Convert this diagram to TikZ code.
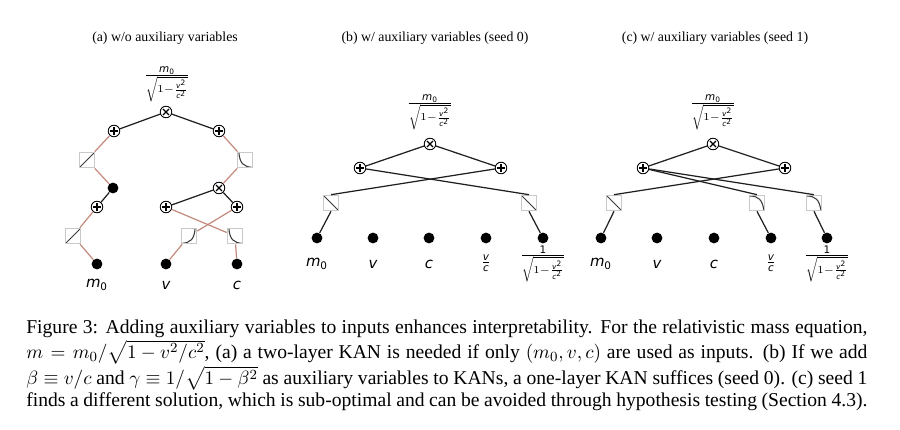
\documentclass[tikz,border=0pt]{standalone}
\usepackage{amsmath,amssymb}
\usepackage{fontspec}
\setmainfont{Liberation Serif}
\newfontfamily\mplfont{DejaVu Sans}
\usetikzlibrary{positioning, calc}
\definecolor{kanred}{HTML}{C48A7E}
\definecolor{boxgray}{HTML}{C9C9C9}
\definecolor{curvegray}{HTML}{3A3A3A}

\newcommand{\mpv}[1]{\text{\mplfont\itshape #1}}
\newcommand{\mpn}[1]{\text{\mplfont #1}}
\newcommand{\massfrac}{$\frac{\mpv{m}_{\mpn{0}}}{\sqrt{1-\frac{\mpv{v}^{\mpn{2}}}{\mpv{c}^{\mpn{2}}}}}$}
\newcommand{\gammafrac}{$\frac{\mpn{1}}{\sqrt{1-\frac{\mpv{v}^{\mpn{2}}}{\mpv{c}^{\mpn{2}}}}}$}

\begin{document}
\begin{tikzpicture}[
  x=0.5714pt, y=-0.5714pt,
  edge/.style={line width=0.7pt, black!88},
  redge/.style={line width=0.7pt, kanred},
  dot/.style={circle, fill=black, minimum size=6.2pt, inner sep=0pt},
  sumnode/.style={
    circle, draw, fill=white, line width=0.5pt, minimum size=6.6pt, inner sep=0pt,
    path picture={\draw[line width=0.75pt, shift={(path picture bounding box.center)}]
      (-2.4pt,0) -- (2.4pt,0) (0,-2.4pt) -- (0,2.4pt);}
  },
  mulnode/.style={
    circle, draw, fill=white, line width=0.5pt, minimum size=6.6pt, inner sep=0pt,
    path picture={\draw[line width=0.75pt, shift={(path picture bounding box.center)}]
      (-1.7pt,-1.7pt) -- (1.7pt,1.7pt) (-1.7pt,1.7pt) -- (1.7pt,-1.7pt);}
  },
  kanbox/.style={draw=boxgray, fill=white, line width=0.5pt, minimum size=9pt, inner sep=0pt},
  linup/.style={kanbox, path picture={\draw[curvegray, line width=0.6pt,
      shift={(path picture bounding box.center)}] (-4.5pt,-4.5pt) -- (4.5pt,4.5pt);}},
  lindown/.style={kanbox, path picture={\draw[curvegray, line width=0.6pt,
      shift={(path picture bounding box.center)}] (-4.5pt,4.5pt) -- (4.5pt,-4.5pt);}},
  curvedecay/.style={kanbox, path picture={\draw[curvegray, line width=0.6pt,
      shift={(path picture bounding box.center)}]
      (-3.5pt,4.5pt) .. controls (-3pt,-2pt) and (-1pt,-3.8pt) .. (4.5pt,-4.3pt);}},
  curvegrow/.style={kanbox, path picture={\draw[curvegray, line width=0.6pt,
      shift={(path picture bounding box.center)}]
      (-4.5pt,-4.3pt) .. controls (1pt,-3.8pt) and (3pt,-2pt) .. (3.5pt,4.5pt);}},
  curvedrop/.style={kanbox, path picture={\draw[curvegray, line width=0.6pt,
      shift={(path picture bounding box.center)}]
      (-4.5pt,4pt) .. controls (1pt,4pt) and (3pt,2pt) .. (4pt,-4.5pt);}},
  lab/.style={font=\fontsize{8.5}{10}\selectfont, inner sep=0pt},
  ttl/.style={font=\fontsize{7.9}{9.5}\selectfont},
]

% Background
\fill[white] (0,0) rectangle (900,430);
\useasboundingbox (0,0) rectangle (900,430);

% Titles
\node[ttl] (ttl-a) at (165,38) {(a) w/o auxiliary variables};
\node[ttl] (ttl-b) at (435,38) {(b) w/ auxiliary variables (seed 0)};
\node[ttl] (ttl-c) at (715,38) {(c) w/ auxiliary variables (seed 1)};

% =============================================
% (a) two-layer KAN
% =============================================
\node[lab] (a-out) at (167,84) {\massfrac};
\node[mulnode] (a-mul) at (166,112) {};
\node[sumnode] (a-s1) at (114,131) {};
\node[sumnode] (a-s2) at (219,131) {};
\node[linup] (a-b1) at (87,160) {};
\node[curvedecay] (a-b2) at (245,160) {};
\node[dot] (a-h1) at (113,188) {};
\node[mulnode] (a-h2) at (219,188) {};
\node[sumnode] (a-s3) at (97,207) {};
\node[sumnode] (a-s4) at (166,207) {};
\node[sumnode] (a-s5) at (237,207) {};
\node[linup] (a-b3) at (73,236) {};
\node[curvegrow] (a-b4) at (189,236) {};
\node[curvedecay] (a-b5) at (235,236) {};
\node[dot] (a-m0) at (97,264) {};
\node[dot] (a-v) at (166,264) {};
\node[dot] (a-c) at (237,264) {};
\node[lab] (a-lm0) at (97,285) {$\mpv{m}_{\mpn{0}}$};
\node[lab] (a-lv) at (166,285) {$\mpv{v}$};
\node[lab] (a-lc) at (237,285) {$\mpv{c}$};

\draw[edge] (a-mul) -- (a-s1);
\draw[edge] (a-mul) -- (a-s2);
\draw[edge] (a-h1) -- (a-s3);
\draw[edge] (a-h2) -- (a-s4);
\draw[edge] (a-h2) -- (a-s5);
\draw[redge] (a-s1) -- (a-b1);
\draw[redge] (a-b1) -- (a-h1);
\draw[redge] (a-s2) -- (a-b2);
\draw[redge] (a-b2) -- (a-h2);
\draw[redge] (a-s3) -- (a-b3);
\draw[redge] (a-b3) -- (a-m0);
\draw[redge] (a-s4) -- (a-b5);
\draw[redge] (a-b5) -- (a-c);
\draw[redge] (a-s5) -- (a-b4);
\draw[redge] (a-b4) -- (a-v);

% =============================================
% (b) one-layer KAN, seed 0
% =============================================
\node[lab] (b-out) at (430,112) {\massfrac};
\node[mulnode] (b-mul) at (430,144) {};
\node[sumnode] (b-s1) at (360,168) {};
\node[sumnode] (b-s2) at (501,168) {};
\node[lindown] (b-b1) at (331,203) {};
\node[lindown] (b-b5) at (529,203) {};
\foreach \x [count=\i] in {317,373,429,486,543}
  \node[dot] (b-in\i) at (\x,238) {};
\node[lab] (b-l1) at (317,264) {$\mpv{m}_{\mpn{0}}$};
\node[lab] (b-l2) at (373,264) {$\mpv{v}$};
\node[lab] (b-l3) at (429,264) {$\mpv{c}$};
\node[lab] (b-l4) at (486,263) {$\frac{\mpv{v}}{\mpv{c}}$};
\node[lab] (b-l5) at (543,264) {\gammafrac};

\draw[edge] (b-mul) -- (b-s1);
\draw[edge] (b-mul) -- (b-s2);
\draw[edge] (b-s1) -- (b-b5.north);
\draw[edge] (b-s2) -- (b-b1.north);
\draw[edge] (b-b1.south) -- (b-in1);
\draw[edge] (b-b5.south) -- (b-in5);

% =============================================
% (c) one-layer KAN, seed 1
% =============================================
\node[lab] (c-out) at (713,112) {\massfrac};
\node[mulnode] (c-mul) at (713,144) {};
\node[sumnode] (c-s1) at (643,168) {};
\node[sumnode] (c-s2) at (785,168) {};
\node[lindown] (c-b1) at (614,203) {};
\node[curvedrop] (c-b4) at (757,203) {};
\node[curvedrop] (c-b5) at (814,203) {};
\foreach \x [count=\i] in {601,657,714,771,827}
  \node[dot] (c-in\i) at (\x,238) {};
\node[lab] (c-l1) at (601,264) {$\mpv{m}_{\mpn{0}}$};
\node[lab] (c-l2) at (657,264) {$\mpv{v}$};
\node[lab] (c-l3) at (714,264) {$\mpv{c}$};
\node[lab] (c-l4) at (771,263) {$\frac{\mpv{v}}{\mpv{c}}$};
\node[lab] (c-l5) at (827,264) {\gammafrac};

\draw[edge] (c-mul) -- (c-s1);
\draw[edge] (c-mul) -- (c-s2);
\draw[edge] (c-s2) -- (c-b1.north);
\draw[edge] (c-s1) -- (c-b4.north);
\draw[edge] (c-s1) -- (c-b5.north);
\draw[edge] (c-b1.south) -- (c-in1);
\draw[edge] (c-b4.south) -- (c-in4);
\draw[edge] (c-b5.south) -- (c-in5);

% =============================================
% Caption
% =============================================
\node[anchor=north west, inner sep=0pt, text width=480.6pt, align=justify,
      font=\fontsize{11.2}{12.4}\selectfont] (caption) at (26,320)
  {Figure 3: Adding auxiliary variables to inputs enhances interpretability. For the relativistic mass equation,\linebreak
   $m = m_0/\sqrt{1-v^2/c^2}$, (a) a two-layer KAN is needed if only $(m_0, v, c)$ are used as inputs. (b) If we add\linebreak
   $\beta \equiv v/c$ and $\gamma \equiv 1/\sqrt{1-\beta^2}$ as auxiliary variables to KANs, a one-layer KAN suffices (seed 0). (c) seed 1\linebreak
   finds a different solution, which is sub-optimal and can be avoided through hypothesis testing (Section 4.3).};

\end{tikzpicture}
\end{document}
